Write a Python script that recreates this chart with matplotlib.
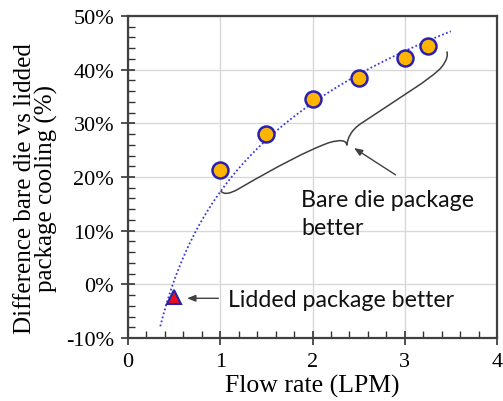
import numpy as np
import matplotlib
matplotlib.use("Agg")
import matplotlib.pyplot as plt
from matplotlib.path import Path
from matplotlib.patches import PathPatch
from matplotlib.ticker import MultipleLocator, FuncFormatter

# Data
bare_flow = [1.0, 1.5, 2.0, 2.5, 3.0, 3.25]
bare_diff = [21.3, 28.1, 34.6, 38.4, 42.1, 44.5]
lid_flow = [0.5]
lid_diff = [-2.4]

y_ticks = [-10, 0, 10, 20, 30, 40, 50]
x_ticks = [0, 1, 2, 3, 4]

serif = ["Liberation Serif", "DejaVu Serif"]
sans = ["Lato", "DejaVu Sans"]

fig = plt.figure(figsize=(5.03, 4.02), dpi=100)
ax = fig.add_axes([128/503, 1-339/402, (497-128)/503, (339-17)/402])

# trendline (log fit on all points)
allx = np.array(bare_flow + lid_flow)
ally = np.array(bare_diff + lid_diff)
a, b = np.polyfit(np.log(allx), ally, 1)
xf = np.linspace(0.35, 3.5, 200)
ax.plot(xf, a*np.log(xf)+b, linestyle=(0, (1, 1.3)), color="#3a3ae0", lw=1.3, zorder=3)

ax.plot(bare_flow, bare_diff, 'o', ms=11.5, mfc="#ffb400", mec="#2a20b0", mew=1.8, zorder=4)
ax.plot(lid_flow, lid_diff, '^', ms=10, mfc="#e8101a", mec="#2a20b0", mew=1.5, zorder=4)

ax.set_xlim(0, 4)
ax.set_ylim(-10, 50)
ax.set_xticks(x_ticks)
ax.set_yticks(y_ticks)
ax.xaxis.set_minor_locator(MultipleLocator(0.2))
ax.yaxis.set_minor_locator(MultipleLocator(2))
ax.yaxis.set_major_formatter(FuncFormatter(lambda v, p: f"{int(v)}%".replace("\u2212", "-")))
ax.grid(True, which="major", color="#d8d8d8", lw=1)
ax.set_axisbelow(True)
ax.tick_params(which="major", direction="inout", length=10, width=1.2, color="#333333",
               labelsize=16, pad=5)
ax.tick_params(which="minor", direction="in", length=5, width=1, color="#333333")
ax.tick_params(top=False, right=False, which="both")
for lab in ax.get_xticklabels() + ax.get_yticklabels():
    lab.set_fontfamily(serif)
for s in ax.spines.values():
    s.set_color("#404040")
    s.set_linewidth(1.6)

ax.set_xlabel("Flow rate (LPM)", fontsize=18.5, family=serif, labelpad=2)
ax.set_ylabel("Difference bare die vs lidded\npackage cooling (%)", fontsize=18,
              family=serif, linespacing=0.92)
ax.yaxis.set_label_coords(-0.19, 0.466)

# brace
verts = [(1.005, 17.4),
         (1.04, 16.7), (1.10, 16.8), (1.20, 17.8),
         (1.6, 21.8), (1.95, 25.0), (2.18, 26.4),
         (2.30, 27.0), (2.37, 26.9), (2.372, 25.9),
         (2.38, 27.3), (2.42, 28.7), (2.52, 29.9),
         (2.9, 34.3), (3.3, 38.4), (3.40, 40.5),
         (3.46, 41.8), (3.47, 42.8), (3.456, 43.4)]
codes = [Path.MOVETO] + [Path.CURVE4]*18
ax.add_patch(PathPatch(Path(verts, codes), fc="none", ec="#404040", lw=1.1, zorder=3))

ax.annotate("", xy=(2.45, 25.4), xytext=(2.9, 20.4),
            arrowprops=dict(arrowstyle="-|>,head_length=0.5,head_width=0.2", color="#404040",
                            lw=1.0, shrinkA=0, shrinkB=0), zorder=3)
ax.annotate("", xy=(0.64, -2.6), xytext=(0.98, -2.6),
            arrowprops=dict(arrowstyle="-|>,head_length=0.5,head_width=0.2", color="#404040",
                            lw=1.0, shrinkA=0, shrinkB=0), zorder=3)

ax.text(1.88, 13.2, "Bare die package\nbetter", fontsize=16.7, family=sans,
        va="center", ha="left", linespacing=1.45, color="#111111")
ax.text(1.08, -2.8, "Lidded package better", fontsize=16.7, family=sans,
        va="center", ha="left", color="#111111")

fig.savefig("out.png", dpi=100)
